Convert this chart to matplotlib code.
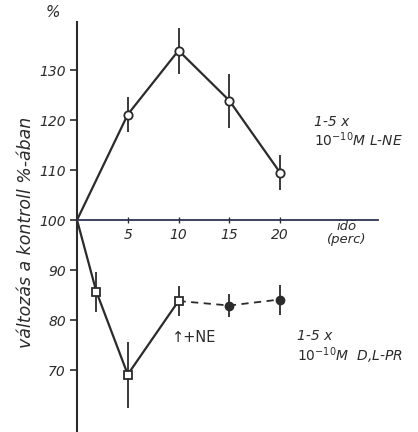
import matplotlib.pyplot as plt

# L-NE (open circles)
ne_t = [0, 5, 10, 15, 20]
ne_val = [100, 121.1, 133.9, 123.9, 109.5]
ne_err = [0, 3.5, 4.6, 5.4, 3.5]

# D,L-PR (open squares, solid line)
pr_t = [0, 1.9, 5, 10]
pr_val = [100, 85.7, 69.1, 83.8]
pr_err = [0, 4.0, 6.6, 3.0]

# after +NE (filled circles, dashed line)
pr_ne_t = [10, 15, 20]
pr_ne_val = [83.8, 82.9, 84.1]
pr_ne_err = [0, 2.2, 3.0]

xticks = [5, 10, 15, 20]
yticks = [70, 80, 90, 100, 110, 120, 130]

ink = '#2b2b2b'
fig = plt.figure(figsize=(4.18, 4.32), dpi=100)
ax = fig.add_axes([0, 0, 1, 1])
ax.set_xlim(-7.59, 33.6)
ax.set_ylim(57.6, 144)

for s in ['top', 'right']:
    ax.spines[s].set_visible(False)
ax.spines['left'].set_position(('data', 0))
ax.spines['left'].set_bounds(57.6, 139.6)
ax.spines['left'].set_linewidth(1.5)
ax.spines['left'].set_color(ink)
ax.spines['bottom'].set_position(('data', 100))
ax.spines['bottom'].set_bounds(0, 29.7)
ax.spines['bottom'].set_linewidth(1.3)
ax.spines['bottom'].set_color('#2e3450')
ax.set_facecolor('none')

ax.set_xticks(xticks)
ax.set_xticklabels([str(t) for t in xticks], fontsize=10, style='italic', color=ink)
ax.set_yticks(yticks)
ax.set_yticklabels([str(t) for t in yticks], fontsize=10, style='italic', color=ink)
ax.tick_params(axis='x', direction='inout', length=5, width=1, color=ink, pad=3)
ax.tick_params(axis='y', direction='out', length=5, width=1.2, color=ink, pad=3)

# lines first, markers with error bars on top (no marker at origin)
ax.plot(ne_t, ne_val, color=ink, lw=1.6, zorder=2)
ax.errorbar(ne_t[1:], ne_val[1:], yerr=ne_err[1:], color=ink, lw=0, marker='o', ms=6,
            mfc='white', mec=ink, mew=1.3, elinewidth=1.3, capsize=0, zorder=3)
ax.plot(pr_t, pr_val, color=ink, lw=1.6, zorder=2)
ax.errorbar(pr_t[1:], pr_val[1:], yerr=pr_err[1:], color=ink, lw=0, marker='s', ms=6,
            mfc='white', mec=ink, mew=1.3, elinewidth=1.3, capsize=0, zorder=3)
ax.plot(pr_ne_t, pr_ne_val, color=ink, lw=1.3, ls=(0, (4, 3)), zorder=2)
ax.errorbar(pr_ne_t[1:], pr_ne_val[1:], yerr=pr_ne_err[1:], color=ink, lw=0, marker='o', ms=6,
            mfc=ink, mec=ink, elinewidth=1.3, capsize=0, zorder=3)

ax.text(-1.7, 141.5, '%', fontsize=11, style='italic', color=ink, ha='right', va='center')
ax.text(-5.0, 97.6, 'változás a kontroll %-ában', rotation=90, fontsize=12.5,
        style='italic', color=ink, ha='center', va='center')
ax.text(23.4, 117.6, '1-5 x\n$10^{-10}$M L-NE', fontsize=10, style='italic',
        color=ink, ha='left', va='center', linespacing=1.1)
ax.text(26.6, 97.4, 'idö\n(perc)', fontsize=9.5, style='italic', color=ink,
        ha='center', va='center', linespacing=0.9)
ax.text(9.4, 76.4, '↑+NE', fontsize=10.5, color=ink, ha='left', va='center')
ax.text(21.7, 74.5, '1-5 x\n$10^{-10}$M  D,L-PR', fontsize=10, style='italic',
        color=ink, ha='left', va='center', linespacing=1.1)

fig.savefig('out.png', dpi=100)
